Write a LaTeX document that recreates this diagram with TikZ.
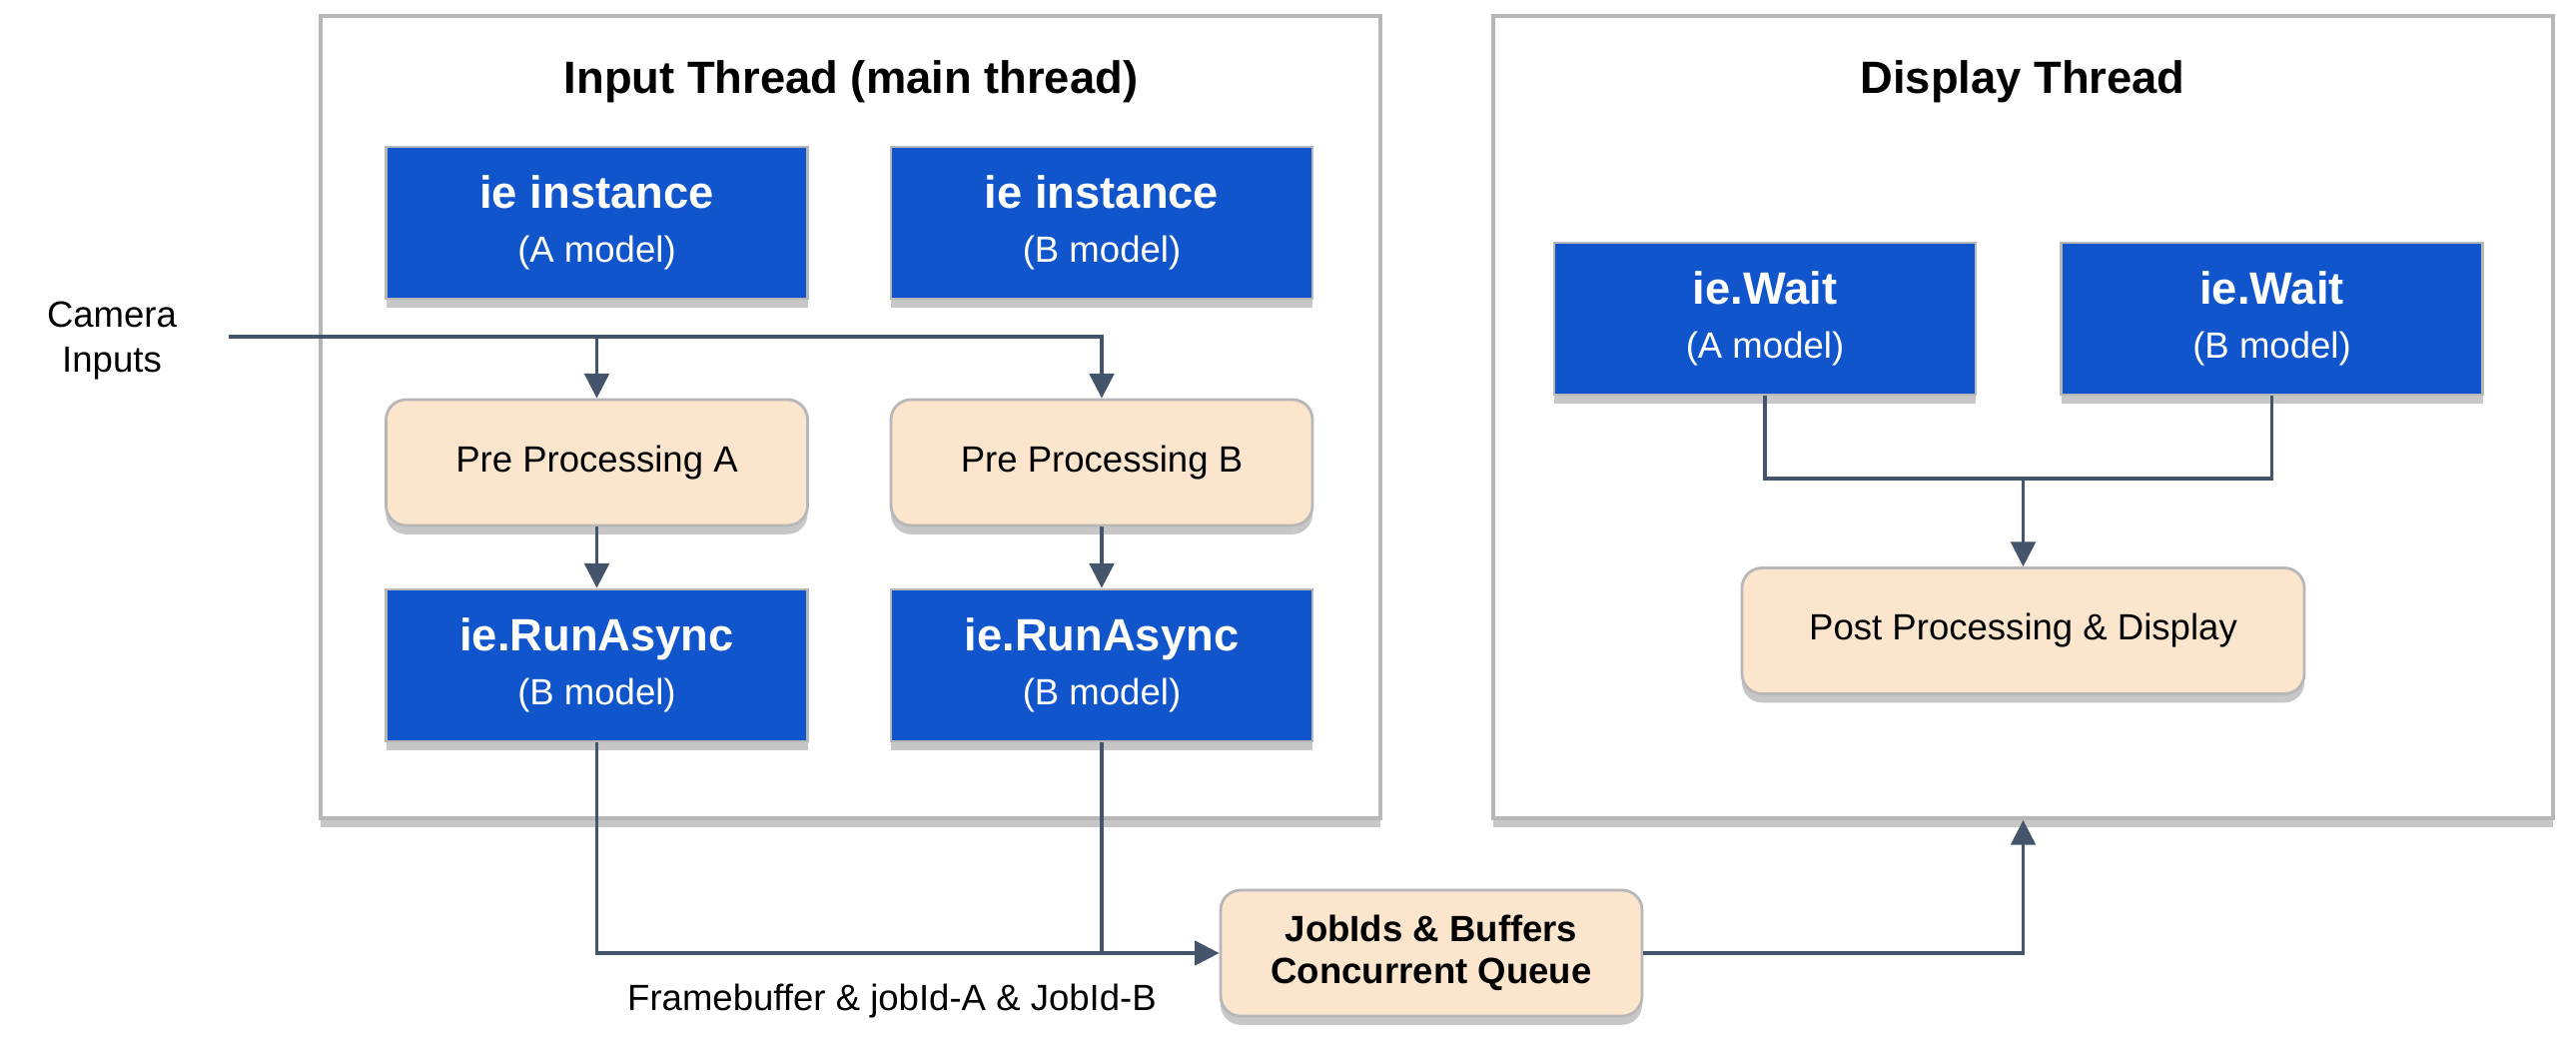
\documentclass[tikz,border=0pt]{standalone}
\usepackage{fontspec}
\setmainfont{Liberation Sans}
\usetikzlibrary{arrows.meta}
\usetikzlibrary{shadows}
\definecolor{ieblue}{HTML}{1155CC}
\definecolor{iepeach}{HTML}{FCE5CD}
\definecolor{ieslate}{HTML}{44546A}
\definecolor{iegray}{HTML}{B7B7B7}

\tikzset{
  softshadow/.style={drop shadow={shadow xshift=0pt, shadow yshift=-2.5pt, opacity=0.22, fill=black}},
  threadbox/.style={draw=iegray, line width=1.1pt, fill=white, softshadow, minimum width=10.61cm, minimum height=8.03cm},
  callbox/.style={draw=iegray, line width=0.8pt, fill=ieblue, text=white, softshadow, align=center,
    minimum width=4.22cm, minimum height=1.52cm, font=\fontsize{10.4}{15.4}\selectfont},
  workbox/.style={draw=iegray, line width=0.8pt, fill=iepeach, rounded corners=0.2cm, softshadow, align=center,
    minimum height=1.26cm, font=\fontsize{10.4}{12}\selectfont},
  link/.style={draw=ieslate, line width=0.9pt},
  arrow/.style={link, -{Triangle[length=7pt,width=7pt]}}
}
\newcommand{\bigtxt}[1]{{\fontsize{12.9}{15.4}\selectfont\bfseries #1}}

\begin{document}
\begin{tikzpicture}
      \useasboundingbox (0, 0) rectangle (25.79, 10.47);
      % thread frames
      \node [threadbox] (inthread) at (8.515, 6.295) {};
      \node [threadbox] (disthread) at (20.255, 6.295) {};
      \node (intitle) at (8.52, 9.65) {\bigtxt{Input Thread (main thread)}};
      \node (distitle) at (20.25, 9.65) {\bigtxt{Display Thread}};
      % input side
      \node [callbox] (instA) at (5.975, 8.24) {\bigtxt{ie instance}\\(A model)};
      \node [callbox] (instB) at (11.03, 8.24) {\bigtxt{ie instance}\\(B model)};
      \node [workbox, minimum width=4.22cm] (preA) at (5.975, 5.84) {Pre Processing A};
      \node [workbox, minimum width=4.22cm] (preB) at (11.03, 5.84) {Pre Processing B};
      \node [callbox] (runA) at (5.975, 3.81) {\bigtxt{ie.RunAsync}\\(B model)};
      \node [callbox] (runB) at (11.03, 3.81) {\bigtxt{ie.RunAsync}\\(B model)};
      \node [align=center, font=\fontsize{10.4}{12.8}\selectfont] (camtxt) at (1.12, 7.06) {Camera\\Inputs};
      \coordinate (cam) at (2.29, 7.10);
      % display side
      \node [callbox] (waitA) at (17.67, 7.28) {\bigtxt{ie.Wait}\\(A model)};
      \node [callbox] (waitB) at (22.745, 7.28) {\bigtxt{ie.Wait}\\(B model)};
      \coordinate (join) at (20.255, 5.68);
      \node [workbox, minimum width=5.63cm] (post) at (20.255, 4.155) {Post Processing \& Display};
      % queue
      \node [workbox, minimum width=4.22cm, font=\fontsize{10.4}{12}\selectfont\bfseries] (queue) at (14.33, 0.93) {JobIds \& Buffers\\Concurrent Queue};
      \node [font=\fontsize{10.4}{12}\selectfont] (qtxt) at (8.93, 0.45) {Framebuffer \& jobId-A \& JobId-B};
      % connectors
      \draw [arrow] (cam) -| (preB.north);
      \draw [arrow] (cam -| preA.north) -- (preA.north);
      \draw [arrow] (preA) -- (runA);
      \draw [arrow] (preB) -- (runB);
      \draw [link] (runB.south) -- (runB.south |- queue.west);
      \draw [arrow] (runA.south) |- (queue.west);
      \draw [link] (waitA.south) |- (join) -| (waitB.south);
      \draw [arrow] (join) -- (post.north);
      \draw [arrow] (queue.east) -| (disthread.south);
    \end{tikzpicture}
\end{document}
